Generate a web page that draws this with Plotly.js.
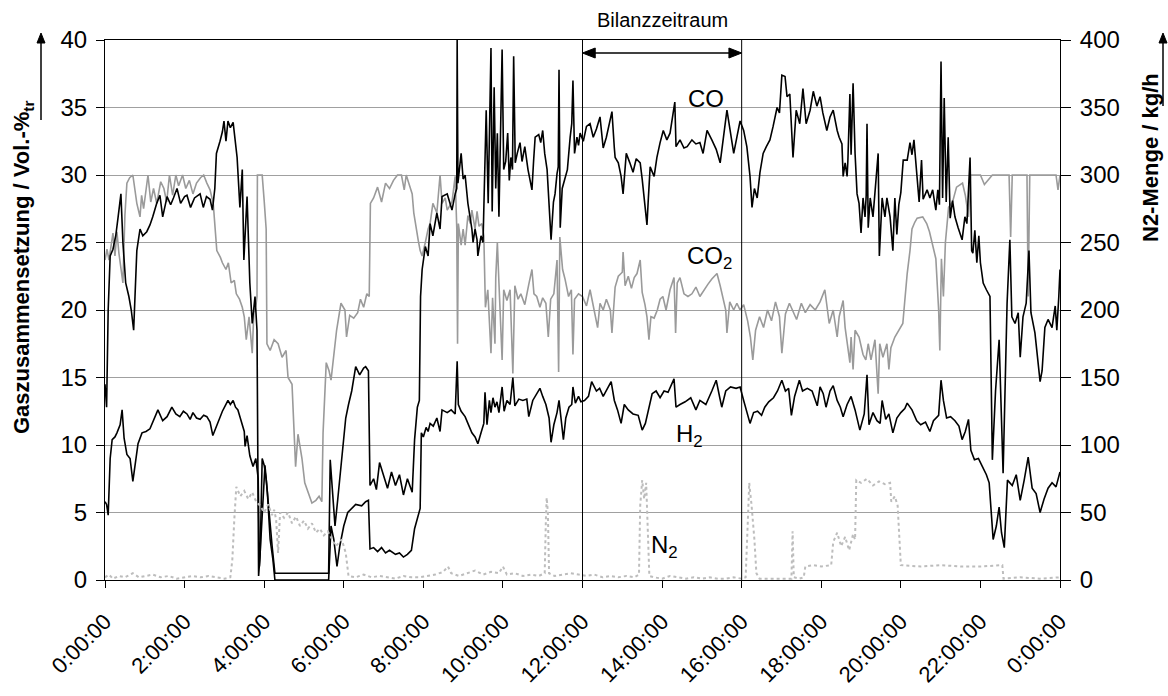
<!DOCTYPE html>
<html>
<head>
<meta charset="utf-8">
<script src="https://cdn.plot.ly/plotly-3.0.1.min.js"></script>
<style>
  html, body { margin: 0; padding: 0; background: #fff; }
  #chart { width: 1168px; height: 696px; }
</style>
</head>
<body>
<div id="chart"></div>
<script>
// Gas composition over one day: [hour, Vol.-%]
const coReadings = [
  [0.00,14.5],[0.04,12.8],[0.08,20.0],[0.13,24.0],[0.20,24.5],[0.27,25.5],[0.33,26.9],[0.40,28.6],[0.45,25.0],[0.52,22.0],
  [0.60,21.0],[0.66,20.0],[0.72,18.5],[0.80,24.4],[0.88,26.0],[0.95,25.5],[1.05,25.8],[1.13,26.3],[1.20,26.9],[1.30,27.9],
  [1.38,28.5],[1.45,26.9],[1.56,28.4],[1.65,27.8],[1.72,28.3],[1.81,29.0],[1.90,27.9],[2.00,28.4],[2.06,28.5],[2.15,27.6],
  [2.25,28.3],[2.39,28.6],[2.47,27.6],[2.55,28.4],[2.64,28.2],[2.70,27.4],[2.76,29.0],[2.80,31.6],[2.89,32.5],[2.95,33.2],
  [2.99,34.0],[3.04,32.5],[3.09,34.0],[3.15,33.5],[3.22,33.9],[3.28,32.0],[3.32,31.3],[3.39,27.6],[3.45,30.4],[3.49,23.7],
  [3.57,28.4],[3.64,22.0],[3.70,19.0],[3.77,21.0],[3.82,18.5],[3.86,0.3],[3.90,2.0],[3.95,9.0],[4.00,8.5],[4.05,7.5],
  [4.12,5.0],[4.20,2.5],[4.27,0.5],[4.60,0.5],[5.00,0.5],[5.30,0.5],[5.62,0.5],[5.66,8.9],[5.72,6.0],[5.78,4.0],
  [5.85,6.0],[5.95,9.0],[6.05,12.0],[6.12,13.0],[6.20,14.0],[6.30,15.8],[6.40,15.2],[6.50,15.7],[6.55,15.8],[6.62,15.5],
  [6.66,7.0],[6.75,7.5],[6.82,6.7],[6.90,8.7],[7.00,7.8],[7.10,6.8],[7.20,8.0],[7.30,7.0],[7.40,7.8],[7.50,6.3],
  [7.60,7.5],[7.72,6.5],[7.78,10.4],[7.85,12.8],[7.90,13.3],[7.93,21.0],[7.97,23.0],[8.05,24.7],[8.12,24.0],[8.17,26.4],
  [8.24,25.5],[8.34,27.2],[8.42,26.0],[8.47,28.4],[8.60,28.6],[8.72,27.4],[8.80,28.6],[8.84,29.0],[8.85,40.0],[8.87,29.4],
  [8.95,31.6],[9.00,29.7],[9.05,30.0],[9.12,27.9],[9.22,26.0],[9.25,25.0],[9.30,26.0],[9.35,25.2],[9.37,24.0],[9.45,25.5],
  [9.50,25.0],[9.55,32.4],[9.58,34.8],[9.63,27.9],[9.70,39.4],[9.73,27.3],[9.78,36.5],[9.82,29.0],[9.86,33.1],[9.90,26.9],
  [9.98,39.3],[10.02,30.4],[10.07,31.0],[10.12,33.1],[10.16,29.6],[10.20,31.3],[10.24,30.4],[10.27,38.8],[10.31,30.9],[10.36,31.6],
  [10.43,32.4],[10.48,31.0],[10.55,32.1],[10.63,30.4],[10.67,29.7],[10.73,28.9],[10.77,31.0],[10.81,32.8],[10.90,33.0],[10.95,32.4],
  [11.00,33.3],[11.05,31.6],[11.11,30.4],[11.16,28.0],[11.21,25.2],[11.27,28.0],[11.31,28.6],[11.36,30.1],[11.39,30.6],[11.41,37.8],
  [11.44,26.1],[11.49,29.0],[11.56,29.7],[11.62,30.4],[11.69,32.8],[11.73,33.8],[11.76,37.0],[11.80,31.6],[11.86,32.8],[11.90,32.2],
  [11.94,33.1],[12.02,32.5],[12.10,33.6],[12.19,33.8],[12.27,32.8],[12.35,33.4],[12.44,34.3],[12.52,32.0],[12.60,32.8],[12.74,34.7],
  [12.80,32.0],[12.82,31.3],[12.90,30.9],[12.97,29.9],[13.02,28.6],[13.10,31.6],[13.19,30.9],[13.27,30.2],[13.35,31.2],[13.45,30.9],
  [13.50,29.7],[13.57,27.4],[13.62,26.3],[13.65,28.0],[13.70,30.6],[13.80,29.9],[13.87,31.3],[13.95,32.4],[14.03,33.3],[14.12,32.6],
  [14.20,33.1],[14.32,35.4],[14.35,32.1],[14.45,32.6],[14.55,32.0],[14.63,32.1],[14.75,32.6],[14.85,32.3],[14.95,32.4],[15.03,31.6],
  [15.13,33.3],[15.25,32.6],[15.36,31.9],[15.46,30.9],[15.55,32.8],[15.63,34.8],[15.71,33.3],[15.80,31.6],[15.88,32.8],[15.96,34.0],
  [16.05,33.3],[16.13,32.1],[16.21,29.9],[16.26,27.6],[16.32,29.0],[16.39,28.3],[16.46,30.2],[16.54,31.6],[16.62,32.1],[16.71,32.6],
  [16.79,33.6],[16.89,35.0],[16.95,34.6],[17.01,37.4],[17.09,37.3],[17.14,35.8],[17.21,36.0],[17.29,31.3],[17.37,34.8],[17.46,33.8],
  [17.54,36.4],[17.62,33.8],[17.72,34.8],[17.80,36.2],[17.89,35.1],[17.97,35.8],[18.04,34.6],[18.09,33.8],[18.14,33.3],[18.22,34.3],
  [18.30,34.8],[18.40,33.3],[18.45,32.8],[18.52,32.3],[18.55,29.9],[18.60,30.9],[18.65,29.9],[18.67,31.1],[18.72,36.0],[18.75,31.5],
  [18.80,36.8],[18.85,31.6],[18.90,28.6],[18.95,27.9],[19.00,25.7],[19.05,28.3],[19.10,26.9],[19.13,28.5],[19.15,33.8],[19.18,26.1],
  [19.23,28.3],[19.30,26.9],[19.35,28.5],[19.43,31.6],[19.46,24.0],[19.53,28.3],[19.60,26.9],[19.65,28.3],[19.73,26.9],[19.80,24.4],
  [19.85,28.3],[19.90,25.6],[19.95,27.8],[20.00,28.7],[20.06,31.1],[20.16,31.1],[20.23,32.4],[20.28,31.5],[20.33,32.6],[20.41,29.7],
  [20.46,28.0],[20.52,31.1],[20.56,28.2],[20.66,28.9],[20.73,28.3],[20.80,28.9],[20.88,27.4],[20.93,28.9],[20.97,27.8],[21.01,38.4],
  [21.05,28.3],[21.09,35.7],[21.14,28.0],[21.19,32.8],[21.24,26.8],[21.30,28.1],[21.36,26.9],[21.44,26.1],[21.54,25.2],[21.61,26.9],
  [21.66,26.4],[21.74,31.3],[21.78,24.4],[21.81,24.2],[21.86,25.9],[21.91,23.5],[21.96,25.5],[22.00,23.5],[22.07,22.0],[22.15,21.5],
  [22.24,21.0],[22.30,8.9],[22.38,14.0],[22.47,17.8],[22.57,7.9],[22.67,20.5],[22.74,25.2],[22.79,19.5],[22.87,19.0],[22.95,19.8],
  [23.00,16.5],[23.07,19.5],[23.15,20.5],[23.22,24.4],[23.27,19.8],[23.37,18.3],[23.45,16.0],[23.50,14.7],[23.55,15.5],[23.62,18.7],
  [23.70,19.3],[23.80,18.7],[23.88,20.3],[23.92,18.5],[23.97,21.0],[24.00,23.0]
];

const co2Readings = [
  [0.00,23.7],[0.05,24.5],[0.10,23.7],[0.20,25.7],[0.25,24.0],[0.30,25.8],[0.35,24.2],[0.45,22.0],[0.50,27.0],[0.55,29.4],
  [0.62,29.8],[0.70,30.0],[0.80,27.9],[0.88,26.9],[0.92,28.5],[0.97,27.5],[1.08,30.0],[1.15,28.0],[1.22,29.0],[1.30,27.9],
  [1.40,29.5],[1.48,29.0],[1.55,28.0],[1.62,30.0],[1.70,28.5],[1.78,30.0],[1.85,29.2],[1.95,30.0],[2.03,29.0],[2.12,29.6],
  [2.21,28.6],[2.30,29.4],[2.40,29.8],[2.48,30.0],[2.56,29.4],[2.64,28.9],[2.72,27.9],[2.76,26.4],[2.81,24.4],[2.90,23.9],
  [2.95,23.5],[3.04,23.0],[3.10,23.5],[3.17,22.0],[3.25,22.2],[3.30,21.2],[3.38,20.8],[3.45,20.2],[3.50,19.5],[3.55,17.8],
  [3.62,19.5],[3.70,16.8],[3.74,19.8],[3.80,20.5],[3.82,21.0],[3.83,30.0],[3.95,30.0],[4.00,28.1],[4.05,26.0],[4.07,17.5],
  [4.15,17.0],[4.25,17.8],[4.35,17.5],[4.45,16.5],[4.55,17.0],[4.60,15.0],[4.70,14.5],[4.75,11.1],[4.79,8.4],[4.85,10.8],
  [4.95,9.0],[5.02,7.2],[5.10,6.5],[5.20,5.7],[5.30,5.9],[5.38,6.2],[5.45,5.8],[5.48,10.9],[5.56,16.1],[5.63,15.5],
  [5.68,14.8],[5.73,16.3],[5.82,18.5],[5.93,20.5],[6.03,20.0],[6.07,18.0],[6.15,19.6],[6.25,19.4],[6.35,19.8],[6.42,20.8],
  [6.50,20.2],[6.58,21.2],[6.64,21.0],[6.67,27.9],[6.75,28.3],[6.85,29.1],[6.95,28.0],[7.05,29.4],[7.15,29.0],[7.25,29.6],
  [7.35,30.0],[7.45,30.0],[7.52,28.9],[7.57,30.0],[7.65,29.2],[7.72,28.6],[7.76,27.2],[7.82,26.0],[7.87,25.2],[7.92,24.4],
  [7.97,24.0],[8.05,25.0],[8.12,26.0],[8.17,26.4],[8.24,27.9],[8.34,27.2],[8.42,30.0],[8.47,27.9],[8.55,28.3],[8.60,27.4],
  [8.72,28.0],[8.80,29.9],[8.84,26.1],[8.86,17.5],[8.88,26.4],[8.95,24.8],[9.00,26.0],[9.05,24.8],[9.12,27.0],[9.18,26.4],
  [9.22,27.4],[9.30,26.0],[9.35,27.3],[9.40,26.2],[9.47,26.4],[9.52,25.5],[9.56,20.2],[9.62,21.5],[9.70,16.8],[9.74,20.9],
  [9.80,17.5],[9.82,22.4],[9.86,25.0],[9.90,22.0],[9.98,16.3],[10.02,21.5],[10.10,20.7],[10.18,21.5],[10.25,15.3],[10.30,21.8],
  [10.38,20.8],[10.45,21.2],[10.55,20.4],[10.65,21.9],[10.73,23.0],[10.78,21.2],[10.85,21.0],[10.93,20.2],[11.00,20.9],[11.08,20.5],
  [11.14,18.0],[11.20,20.8],[11.28,21.2],[11.36,23.7],[11.40,15.4],[11.43,25.4],[11.50,23.0],[11.56,22.3],[11.65,21.0],[11.72,21.5],
  [11.76,16.7],[11.80,20.8],[11.90,21.2],[12.00,21.0],[12.10,20.3],[12.19,21.5],[12.30,20.0],[12.38,18.7],[12.44,20.5],[12.52,20.0],
  [12.60,20.8],[12.70,20.0],[12.74,18.3],[12.82,21.7],[12.90,22.5],[13.00,22.8],[13.02,24.3],[13.07,21.8],[13.15,22.5],[13.23,21.6],
  [13.30,22.4],[13.37,22.7],[13.45,23.7],[13.50,21.3],[13.57,20.4],[13.62,19.5],[13.67,17.8],[13.72,19.5],[13.80,19.4],[13.88,20.0],
  [13.95,20.8],[14.02,21.0],[14.10,20.0],[14.20,21.5],[14.30,22.4],[14.34,18.3],[14.38,22.0],[14.45,22.4],[14.55,21.2],[14.65,21.0],
  [14.75,21.2],[14.85,21.7],[14.95,21.0],[15.05,21.5],[15.15,21.9],[15.25,22.3],[15.38,22.7],[15.46,21.8],[15.53,20.8],[15.60,20.0],
  [15.63,18.3],[15.70,20.6],[15.80,20.0],[15.88,20.5],[15.96,20.0],[16.05,20.4],[16.15,19.2],[16.22,18.0],[16.28,16.3],[16.35,18.5],
  [16.45,19.5],[16.55,18.7],[16.65,20.0],[16.75,19.2],[16.85,20.6],[16.95,19.5],[17.01,16.8],[17.10,19.7],[17.20,20.5],[17.28,20.0],
  [17.38,19.3],[17.50,20.5],[17.60,19.8],[17.72,20.4],[17.85,20.0],[17.97,20.6],[18.09,21.5],[18.20,19.0],[18.30,20.0],[18.40,18.0],
  [18.45,19.5],[18.55,20.7],[18.60,18.7],[18.72,16.1],[18.75,18.0],[18.80,15.6],[18.85,18.5],[18.95,18.0],[19.05,16.7],[19.12,16.3],
  [19.18,17.5],[19.25,16.3],[19.35,17.8],[19.43,13.8],[19.47,17.5],[19.55,16.5],[19.65,17.5],[19.70,15.6],[19.75,17.2],[19.85,18.0],
  [19.95,18.5],[20.05,19.0],[20.10,20.7],[20.16,22.7],[20.23,24.4],[20.28,26.0],[20.35,26.5],[20.41,26.8],[20.55,26.9],[20.65,26.4],
  [20.72,25.8],[20.80,24.7],[20.88,23.8],[20.95,20.0],[20.98,17.0],[21.02,23.8],[21.07,21.0],[21.12,25.0],[21.20,27.6],[21.30,28.0],
  [21.40,29.1],[21.55,29.4],[21.62,28.5],[21.70,26.9],[21.75,30.0],[22.00,30.0],[22.10,29.3],[22.30,30.0],[22.72,30.0],[22.76,25.4],
  [22.80,30.0],[23.17,30.0],[23.20,21.0],[23.24,30.0],[23.90,30.0],[23.95,28.9],[24.00,30.0]
];

const h2Readings = [
  [0.00,5.8],[0.04,5.6],[0.08,4.8],[0.13,9.0],[0.18,10.4],[0.25,10.6],[0.30,10.9],[0.38,11.5],[0.43,12.6],[0.48,10.5],
  [0.55,9.3],[0.63,9.0],[0.70,7.3],[0.76,8.5],[0.83,10.1],[0.93,10.9],[1.03,11.0],[1.13,11.2],[1.26,12.1],[1.33,12.6],
  [1.45,11.8],[1.56,12.1],[1.68,12.8],[1.78,12.3],[1.88,12.1],[1.97,12.5],[2.06,12.3],[2.14,11.9],[2.21,12.4],[2.30,12.0],
  [2.39,11.9],[2.48,12.2],[2.56,12.1],[2.64,11.7],[2.71,10.7],[2.80,11.4],[2.89,12.1],[2.95,12.5],[3.02,12.9],[3.09,13.3],
  [3.15,13.0],[3.22,13.3],[3.28,12.8],[3.34,12.6],[3.40,12.0],[3.44,11.6],[3.50,11.0],[3.52,9.9],[3.57,10.7],[3.64,9.2],
  [3.72,8.4],[3.79,9.0],[3.85,7.5],[3.88,1.0],[3.95,4.5],[4.02,8.5],[4.08,6.5],[4.15,3.0],[4.22,1.5],[4.27,0.0],
  [5.62,0.0],[5.68,4.0],[5.75,3.0],[5.83,1.0],[5.90,2.5],[6.00,4.0],[6.10,5.0],[6.20,5.3],[6.30,5.6],[6.45,5.5],
  [6.55,5.8],[6.62,5.9],[6.66,2.3],[6.75,2.4],[6.85,2.1],[6.95,2.4],[7.05,2.0],[7.15,2.2],[7.30,1.9],[7.40,2.0],
  [7.50,1.7],[7.60,1.9],[7.70,2.2],[7.78,3.8],[7.87,4.7],[7.92,5.3],[7.95,10.9],[8.00,10.6],[8.07,11.3],[8.12,11.0],
  [8.17,11.6],[8.25,11.4],[8.34,12.0],[8.42,11.0],[8.47,12.6],[8.60,12.4],[8.70,12.6],[8.80,12.3],[8.85,16.2],[8.88,13.0],
  [8.95,12.5],[9.05,12.1],[9.12,11.6],[9.22,10.9],[9.30,10.6],[9.37,10.1],[9.45,10.9],[9.52,11.6],[9.55,13.9],[9.60,11.5],
  [9.66,13.3],[9.70,12.4],[9.75,13.5],[9.80,12.8],[9.85,13.2],[9.90,12.4],[9.98,14.3],[10.03,12.5],[10.10,13.3],[10.18,13.0],
  [10.25,15.0],[10.30,12.9],[10.40,13.4],[10.50,13.3],[10.60,13.4],[10.65,12.1],[10.75,13.3],[10.85,13.8],[10.93,14.2],[11.00,13.6],
  [11.08,13.0],[11.16,12.0],[11.21,10.2],[11.28,11.5],[11.36,12.4],[11.41,13.3],[11.46,12.0],[11.52,10.4],[11.58,12.0],[11.66,12.8],
  [11.73,13.0],[11.76,14.3],[11.82,13.1],[11.90,13.6],[11.96,13.2],[12.05,13.3],[12.15,13.6],[12.23,14.7],[12.35,14.0],[12.43,14.2],
  [12.52,13.6],[12.60,14.0],[12.72,14.7],[12.80,13.3],[12.88,12.6],[12.97,11.6],[13.05,13.0],[13.15,12.6],[13.27,12.3],[13.40,12.2],
  [13.50,11.1],[13.58,11.6],[13.65,12.6],[13.75,13.8],[13.85,14.0],[13.95,13.5],[14.05,14.0],[14.15,13.9],[14.30,14.9],[14.35,12.8],
  [14.45,13.0],[14.58,13.2],[14.72,13.5],[14.85,12.6],[14.95,13.3],[15.10,13.0],[15.25,14.0],[15.36,14.8],[15.45,13.5],[15.50,12.8],
  [15.60,14.0],[15.72,14.3],[15.86,14.2],[15.96,14.3],[16.05,13.3],[16.13,12.5],[16.21,11.6],[16.30,12.4],[16.40,12.5],[16.50,12.2],
  [16.58,12.8],[16.68,13.2],[16.80,13.5],[16.90,14.0],[17.01,14.8],[17.10,14.0],[17.18,14.2],[17.25,12.2],[17.33,13.6],[17.45,14.8],
  [17.53,14.0],[17.65,14.2],[17.77,14.0],[17.90,12.9],[17.97,14.3],[18.05,13.8],[18.12,12.8],[18.22,14.0],[18.30,14.4],[18.40,13.3],
  [18.48,12.8],[18.55,12.1],[18.65,13.0],[18.75,13.6],[18.85,12.6],[18.97,11.1],[19.08,12.3],[19.15,15.2],[19.20,11.5],[19.30,12.4],
  [19.40,11.8],[19.48,11.6],[19.53,13.3],[19.62,11.9],[19.70,12.3],[19.80,10.9],[19.90,12.0],[20.00,12.4],[20.10,12.7],[20.16,13.1],
  [20.28,12.6],[20.40,11.8],[20.50,11.5],[20.62,11.7],[20.73,11.0],[20.82,11.8],[20.95,12.2],[21.01,14.8],[21.07,13.3],[21.15,12.0],
  [21.25,12.1],[21.36,11.8],[21.46,11.4],[21.54,10.4],[21.62,11.0],[21.70,11.9],[21.76,9.6],[21.85,8.9],[21.95,9.0],[22.05,8.4],
  [22.15,7.8],[22.22,7.2],[22.28,5.0],[22.32,3.0],[22.40,4.0],[22.47,5.4],[22.53,3.5],[22.60,2.4],[22.68,7.4],[22.80,7.0],
  [22.90,7.8],[23.00,5.9],[23.10,7.4],[23.20,9.1],[23.30,6.8],[23.40,6.4],[23.50,5.0],[23.60,6.0],[23.70,6.8],[23.80,7.2],
  [23.90,6.9],[24.00,8.0]
];

// Nitrogen flow: [hour, kg/h] on the right axis
const n2Readings = [
  [0.00,2],[0.10,4],[0.20,1],[0.35,3],[0.50,2],[0.70,5],[0.85,2],[1.00,3],[1.20,4],[1.40,2],
  [1.60,3],[1.80,1],[2.00,2],[2.20,3],[2.40,2],[2.60,3],[2.80,2],[3.00,1],[3.15,2],[3.20,15],
  [3.25,45],[3.30,69],[3.40,62],[3.50,66],[3.60,60],[3.70,65],[3.80,58],[3.90,55],[4.00,50],[4.10,56],
  [4.20,48],[4.25,52],[4.30,45],[4.35,20],[4.40,50],[4.50,46],[4.60,50],[4.70,42],[4.80,47],[4.90,40],
  [5.00,44],[5.10,38],[5.20,42],[5.30,35],[5.40,38],[5.50,33],[5.60,36],[5.70,30],[5.80,25],[5.95,30],
  [6.05,20],[6.12,3],[6.30,2],[6.50,4],[6.70,2],[6.90,3],[7.10,2],[7.30,1],[7.50,3],[7.70,2],
  [7.90,2],[8.10,3],[8.30,4],[8.50,6],[8.62,10],[8.70,5],[8.90,3],[9.10,5],[9.30,7],[9.50,4],
  [9.70,6],[9.90,5],[10.00,10],[10.10,4],[10.30,5],[10.50,3],[10.70,4],[10.90,3],[11.05,5],[11.08,45],
  [11.10,61],[11.13,50],[11.16,5],[11.30,3],[11.50,4],[11.70,5],[11.90,4],[12.10,3],[12.30,4],[12.50,2],
  [12.70,3],[12.90,2],[13.10,3],[13.30,2],[13.42,4],[13.45,55],[13.50,74],[13.55,60],[13.60,72],[13.65,30],
  [13.68,3],[13.80,2],[14.00,1],[14.20,3],[14.40,2],[14.60,1],[14.80,2],[15.00,1],[15.20,2],[15.40,1],
  [15.60,1],[15.80,2],[16.00,1],[16.10,2],[16.15,40],[16.19,72],[16.25,55],[16.32,30],[16.37,5],[16.45,1],
  [16.70,1],[17.00,1],[17.25,1],[17.28,36],[17.31,2],[17.45,1],[17.56,2],[17.60,10],[17.80,11],[18.00,10],
  [18.25,11],[18.30,28],[18.40,35],[18.50,25],[18.60,32],[18.70,22],[18.80,34],[18.85,30],[18.88,74],[19.00,72],
  [19.15,75],[19.30,70],[19.45,73],[19.60,71],[19.73,72],[19.76,58],[19.85,62],[19.92,55],[19.97,20],[20.00,11],
  [20.50,10],[21.00,11],[21.50,10],[22.00,10],[22.55,11],[22.58,1],[23.00,2],[23.50,1],[24.00,2]
];

// x-axis: hours of the day, labelled as clock times
const hourTicks = [0, 2, 4, 6, 8, 10, 12, 14, 16, 18, 20, 22, 24];
const hourLabels = ['0:00:00','2:00:00','4:00:00','6:00:00','8:00:00','10:00:00','12:00:00',
                    '14:00:00','16:00:00','18:00:00','20:00:00','22:00:00','0:00:00'];

// balance period (Bilanzzeitraum)
const balanceStart = 12;
const balanceEnd = 16;

const FONT = 'Arial, "Liberation Sans", Helvetica, sans-serif';
const col = (rows, i) => rows.map(r => r[i]);

// plot box in pixels, used to place the arrow decorations in paper units
const BOX = { left: 105, right: 1060, top: 40, bottom: 580 };
const px = x => (x - BOX.left) / (BOX.right - BOX.left);
const py = y => (BOX.bottom - y) / (BOX.bottom - BOX.top);

// vertical arrow (pointing up) beside an axis title
function upArrow(xPix, yTop, yBottom) {
  return [
    { type: 'line', xref: 'paper', yref: 'paper', x0: px(xPix), x1: px(xPix),
      y0: py(yBottom), y1: py(yTop + 8), line: { color: '#000', width: 1.5 } },
    { type: 'path', xref: 'paper', yref: 'paper', fillcolor: '#000', line: { color: '#000', width: 1 },
      path: `M ${px(xPix - 4)} ${py(yTop + 10)} L ${px(xPix + 4)} ${py(yTop + 10)} L ${px(xPix)} ${py(yTop)} Z` }
  ];
}

// horizontal double arrow spanning the balance period
const arrowY = py(53);
const headLen = 0.32;   // hours
const headHalf = 5 / (BOX.bottom - BOX.top);
const balanceArrow = [
  { type: 'line', xref: 'x', yref: 'paper', x0: balanceStart + 0.1, x1: balanceEnd - 0.1, y0: arrowY, y1: arrowY,
    line: { color: '#000', width: 1.5 } },
  { type: 'path', xref: 'x', yref: 'paper', fillcolor: '#000', line: { color: '#000', width: 1 },
    path: `M ${balanceStart} ${arrowY} L ${balanceStart + headLen} ${arrowY + headHalf} L ${balanceStart + headLen} ${arrowY - headHalf} Z` },
  { type: 'path', xref: 'x', yref: 'paper', fillcolor: '#000', line: { color: '#000', width: 1 },
    path: `M ${balanceEnd} ${arrowY} L ${balanceEnd - headLen} ${arrowY + headHalf} L ${balanceEnd - headLen} ${arrowY - headHalf} Z` }
];

const traces = [
  { name: 'CO2', x: col(co2Readings, 0), y: col(co2Readings, 1), type: 'scatter', mode: 'lines',
    line: { color: '#9a9a9a', width: 1.6 }, yaxis: 'y' },
  { name: 'H2', x: col(h2Readings, 0), y: col(h2Readings, 1), type: 'scatter', mode: 'lines',
    line: { color: '#000000', width: 1.6 }, yaxis: 'y' },
  { name: 'CO', x: col(coReadings, 0), y: col(coReadings, 1), type: 'scatter', mode: 'lines',
    line: { color: '#000000', width: 1.6 }, yaxis: 'y' },
  { name: 'N2', x: col(n2Readings, 0), y: col(n2Readings, 1), type: 'scatter', mode: 'lines',
    line: { color: '#bdbdbd', width: 2, dash: 'dot' }, yaxis: 'y2' }
];

const layout = {
  width: 1168, height: 696,
  margin: { l: 105, r: 108, t: 40, b: 116, pad: 0 },
  paper_bgcolor: '#ffffff', plot_bgcolor: '#ffffff',
  showlegend: false,
  font: { family: FONT, size: 24, color: '#000' },
  xaxis: {
    range: [0, 24], tickmode: 'array', tickvals: hourTicks, ticktext: hourLabels,
    tickangle: -45, ticks: 'outside', ticklen: 7, tickcolor: '#000', tickwidth: 1,
    showline: true, linecolor: '#000', linewidth: 1, mirror: true,
    showgrid: false, zeroline: false,
    tickfont: { family: FONT, size: 22, color: '#000' }, ticklabelstandoff: 12
  },
  yaxis: {
    range: [0, 40], dtick: 5, tick0: 0, ticks: 'outside', ticklen: 8, tickcolor: '#000',
    showline: true, linecolor: '#000', linewidth: 1,
    showgrid: true, gridcolor: '#a0a0a0', gridwidth: 1, zeroline: false,
    tickfont: { family: FONT, size: 24, color: '#000' }, ticklabelstandoff: 4
  },
  yaxis2: {
    range: [0, 400], dtick: 50, tick0: 0, overlaying: 'y', side: 'right',
    ticks: 'outside', ticklen: 10, tickcolor: '#000',
    showline: true, linecolor: '#000', linewidth: 1,
    showgrid: false, zeroline: false,
    tickfont: { family: FONT, size: 24, color: '#000' }, ticklabelstandoff: 4
  },
  shapes: [
    { type: 'line', xref: 'x', yref: 'paper', x0: balanceStart, x1: balanceStart, y0: 0, y1: 1,
      line: { color: '#000', width: 1 } },
    { type: 'line', xref: 'x', yref: 'paper', x0: balanceEnd, x1: balanceEnd, y0: 0, y1: 1,
      line: { color: '#000', width: 1 } },
    ...balanceArrow,
    ...upArrow(41, 33, 120),
    ...upArrow(1163, 33, 106)
  ],
  annotations: [
    { text: 'Bilanzzeitraum', xref: 'x', yref: 'paper', x: (balanceStart + balanceEnd) / 2, y: py(20),
      xanchor: 'center', yanchor: 'middle',
      showarrow: false, font: { family: FONT, size: 20, color: '#000' } },
    { text: 'CO', xref: 'x', yref: 'y', x: 15.1, y: 35.7, showarrow: false,
      font: { family: FONT, size: 24, color: '#000' } },
    { text: 'CO<sub>2</sub>', xref: 'x', yref: 'y', x: 15.2, y: 23.9, showarrow: false,
      font: { family: FONT, size: 24, color: '#000' } },
    { text: 'H<sub>2</sub>', xref: 'x', yref: 'y', x: 14.7, y: 10.7, showarrow: false,
      font: { family: FONT, size: 24, color: '#000' } },
    { text: 'N<sub>2</sub>', xref: 'x', yref: 'y', x: 14.05, y: 2.5, showarrow: false,
      font: { family: FONT, size: 24, color: '#000' } },
    { text: '<b>Gaszusammensetzung / Vol.-%<sub>tr</sub></b>', xref: 'paper', yref: 'paper',
      x: px(23), y: py(268), xanchor: 'center', yanchor: 'middle', textangle: -90, showarrow: false,
      font: { family: FONT, size: 22, color: '#000' } },
    { text: '<b>N2-Menge / kg/h</b>', xref: 'paper', yref: 'paper',
      x: px(1150), y: py(158), xanchor: 'center', yanchor: 'middle', textangle: -90, showarrow: false,
      font: { family: FONT, size: 22, color: '#000' } }
  ]
};

Plotly.newPlot('chart', traces, layout, { staticPlot: true, displayModeBar: false });
</script>
</body>
</html>
